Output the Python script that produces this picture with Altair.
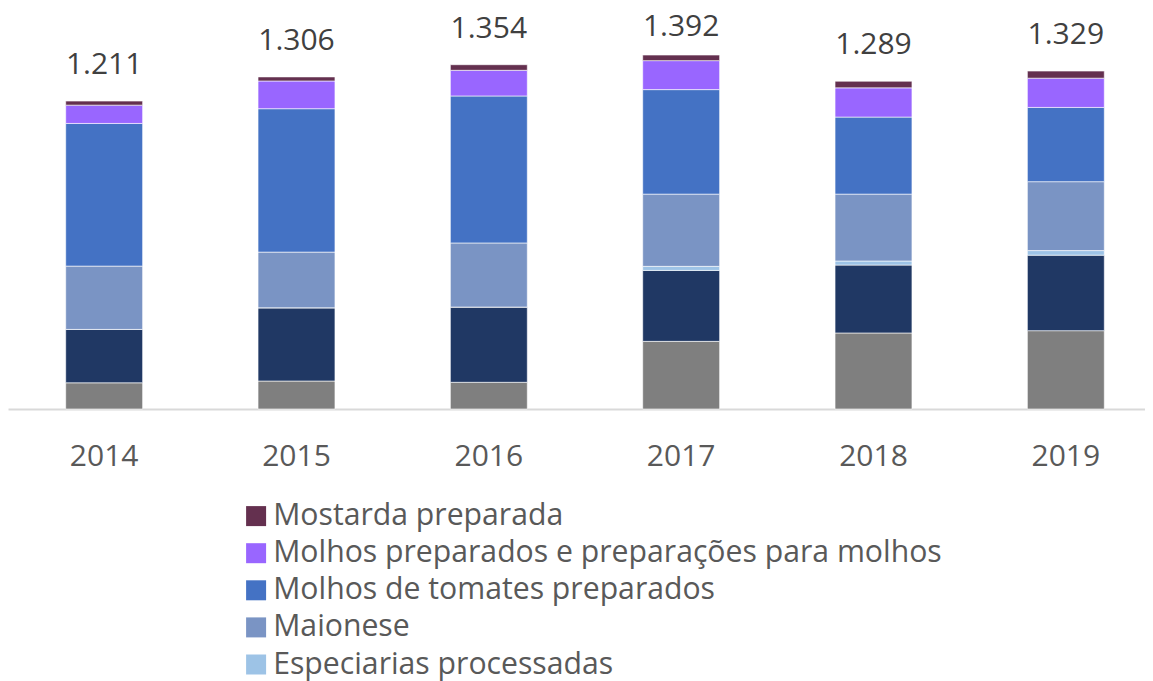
import altair as alt
import pandas as pd

years = ["2014", "2015", "2016", "2017", "2018", "2019"]
outros = [103, 110, 105, 266, 299, 308]
catchup = [210, 288, 296, 279, 267, 297]
especiarias = [0, 0, 0, 16, 16, 18]
maionese = [249, 219, 252, 284, 263, 271]
tomates = [561, 564, 578, 411, 303, 292]
molhos = [72, 109, 101, 114, 115, 115]
mostarda = [16, 16, 22, 22, 26, 28]
totals = [1211, 1306, 1354, 1392, 1289, 1329]

series_names = [
    "Outros",
    "Catchup",
    "Especiarias processadas",
    "Maionese",
    "Molhos de tomates preparados",
    "Molhos preparados e preparações para molhos",
    "Mostarda preparada",
]
series_values = [outros, catchup, especiarias, maionese, tomates, molhos, mostarda]
series_colors = ["#7F7F7F", "#203864", "#9DC3E6", "#7A94C4", "#4472C4", "#9966FF", "#64304F"]

rows = []
for idx, (name, vals) in enumerate(zip(series_names, series_values)):
    for yr, v in zip(years, vals):
        rows.append({"year": yr, "serie": name, "valor": v, "ordem": idx})
df = pd.DataFrame(rows)

df_tot = pd.DataFrame({
    "year": years,
    "total": totals,
    "rotulo": [f"{t / 1000:.3f}" for t in totals],
})

legend_order = list(reversed(series_names))
legend_shown = legend_order[:5]
color_range = list(reversed(series_colors))

xscale = alt.Scale(range=[0, 1154], paddingInner=0.6, paddingOuter=0.3)
yscale = alt.Scale(domain=[0, 1577], nice=False, zero=True)

bars = alt.Chart(df).mark_bar(stroke="white", strokeWidth=0.6).encode(
    x=alt.X("year:N", scale=xscale, sort=years,
            axis=alt.Axis(title=None, ticks=False, tickSize=0, labelAngle=0,
                          labelFontSize=30, labelColor="#595959",
                          labelBaseline="alphabetic", labelPadding=56,
                          domainColor="#D9D9D9", domainWidth=2, grid=False)),
    y=alt.Y("valor:Q", stack="zero", scale=yscale, axis=None),
    color=alt.Color("serie:N",
                    scale=alt.Scale(domain=legend_order, range=color_range),
                    legend=alt.Legend(title=None, orient="none", legendX=233, legendY=493,
                                      values=legend_shown, symbolType="square",
                                      symbolSize=400, symbolStrokeWidth=0,
                                      labelFontSize=30.2, labelColor="#595959",
                                      labelLimit=1000, rowPadding=6.1, labelOffset=2,
                                      padding=0)),
    order=alt.Order("ordem:Q", sort="ascending"),
)

labels = alt.Chart(df_tot).transform_calculate(
    ypos="min(datum.total, 1360)"
).mark_text(fontSize=30, color="#404040", baseline="alphabetic", dy=-27).encode(
    x=alt.X("year:N", scale=xscale, sort=years),
    y=alt.Y("ypos:Q", scale=yscale),
    text="rotulo:N",
)

chart = alt.layer(bars, labels).properties(
    width=1137,
    height=401,
    autosize=alt.AutoSizeParams(type="none"),
    padding={"left": 0, "top": 0, "right": 0, "bottom": 272},
).configure(font="Open Sans").configure_view(stroke=None)

chart.save("out.html", embed_options={"renderer": "svg", "actions": False})
